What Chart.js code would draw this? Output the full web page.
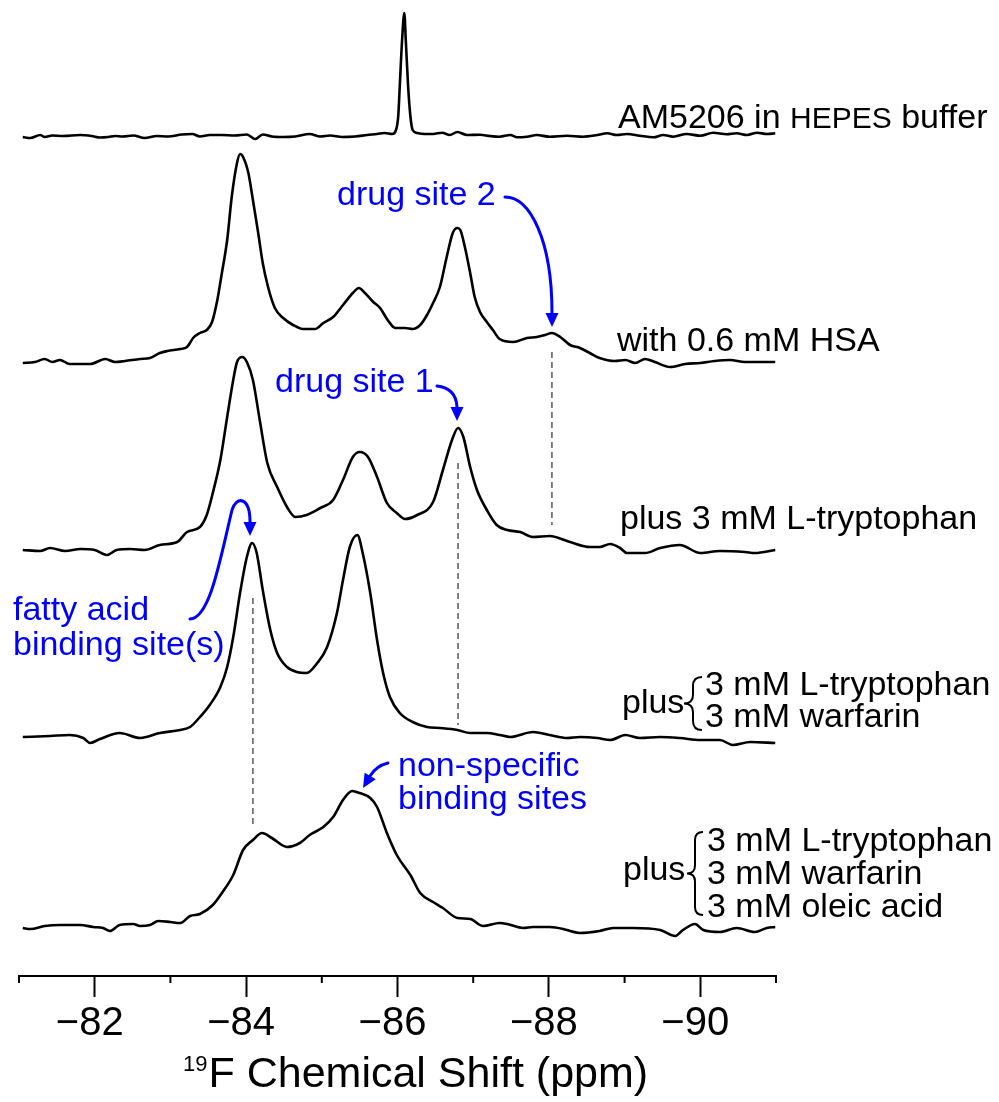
<!DOCTYPE html>
<html lang="en">
<head>
<meta charset="utf-8">
<title>19F NMR – AM5206</title>
<script src="https://cdn.jsdelivr.net/npm/chart.js@4.4.1/dist/chart.umd.min.js"></script>
<style>
  html, body { margin: 0; padding: 0; background: #fff; }
  canvas { display: block; }
</style>
</head>
<body>
<canvas id="espectros" width="999" height="1102"></canvas>
<script>
// Espectros de 19F do AM5206, empilhados de cima para baixo.
// Intensidade em unidades arbitrárias, medida a partir da linha de base de cada espectro.

const ppmHepes = [-81.05, -81.15, -81.28, -81.34, -81.44, -81.58, -81.81, -81.96, -82.07, -82.18,
  -82.27, -82.37, -82.51, -82.66, -82.82, -82.97, -83.15, -83.29, -83.39, -83.52, -83.68, -83.85,
  -84.01, -84.12, -84.22, -84.34, -84.49, -84.65, -84.84, -84.98, -85.11, -85.27, -85.44, -85.60,
  -85.73, -85.83, -85.93, -85.98, -86.01, -86.03, -86.06, -86.09, -86.11, -86.14, -86.17, -86.20,
  -86.26, -86.36, -86.47, -86.59, -86.69, -86.79, -86.92, -87.09, -87.22, -87.35, -87.49, -87.58,
  -87.71, -87.84, -88.01, -88.24, -88.45, -88.64, -88.77, -88.90, -89.03, -89.20, -89.38, -89.51,
  -89.64, -89.82, -90.00, -90.17, -90.35, -90.48, -90.62, -90.75, -90.88, -90.99];
const intHepes = [-1, -2, 1, -1, 0.5, 0, 1, 0, -1.5, -1, 0, -0.5, 0.5, -2, 0, -0.5, 1.5, 2, -0.5, 1,
  1, 0.5, 1.5, -3, 1.5, -0.5, -1, -0.5, 2, -0.5, 0.5, -1, -0.5, 1, 2, 3, 2, 6, 20, 50, 95, 123, 95,
  50, 20, 6, 3, 2, 2, 3.3, 1, 4, 1, 1.3, 0, -0.7, 1, -1.3, -0.7, 1, -0.7, 0.3, -0.7, 1, 2.7, 1, 2,
  0.3, -1.3, 1, -0.7, 2, 0.3, 3.3, 1.7, 2.7, 1, 3.3, 2, 2.7];

const ppmHsa = [-81.05, -81.21, -81.34, -81.44, -81.54, -81.67, -81.94, -82.14, -82.27, -82.40,
  -82.60, -82.73, -82.86, -82.96, -83.13, -83.22, -83.30, -83.39, -83.48, -83.55, -83.62, -83.68,
  -83.75, -83.81, -83.88, -83.92, -83.96, -84.03, -84.09, -84.16, -84.22, -84.29, -84.38, -84.49,
  -84.62, -84.75, -84.91, -85.02, -85.15, -85.28, -85.41, -85.49, -85.57, -85.68, -85.77, -85.87,
  -85.97, -86.03, -86.10, -86.20, -86.30, -86.39, -86.47, -86.56, -86.65, -86.73, -86.79, -86.83,
  -86.89, -86.96, -87.02, -87.09, -87.18, -87.26, -87.35, -87.53, -87.71, -87.84, -87.95, -88.04,
  -88.15, -88.28, -88.41, -88.54, -88.67, -88.87, -89.01, -89.14, -89.27, -89.40, -89.60, -89.80,
  -90.00, -90.19, -90.39, -90.59, -90.79, -90.99];
const intHsa = [-1, 0, 3, 0, 2, -2, -2, 3, 0, 1, 3, 4, 9, 11, 13, 15, 24, 29, 32, 40, 62, 89, 122,
  165, 199, 208, 205, 189, 162, 129, 99, 75, 54, 44, 37, 33, 33, 39, 45, 57, 69, 74, 69, 60, 54, 42,
  34, 34, 34, 33, 37, 47, 59, 75, 105, 129, 134, 132, 115, 89, 65, 50, 40, 32, 23, 20, 24, 25, 27,
  29, 25, 17, 14, 9, 4, 1, 2, -1, 3, 0, -5, -2, -1, 1, 2, 0, 0, 0];

const ppmTrp = [-81.05, -81.28, -81.41, -81.61, -81.81, -82.00, -82.16, -82.29, -82.47, -82.66,
  -82.86, -83.09, -83.22, -83.39, -83.48, -83.56, -83.66, -83.75, -83.83, -83.88, -83.95, -84.01,
  -84.09, -84.18, -84.28, -84.41, -84.54, -84.65, -84.80, -84.98, -85.15, -85.28, -85.41, -85.50,
  -85.61, -85.73, -85.86, -85.99, -86.10, -86.26, -86.47, -86.60, -86.72, -86.80, -86.87, -86.96,
  -87.05, -87.18, -87.31, -87.45, -87.62, -87.79, -88.01, -88.28, -88.54, -88.67, -88.81, -88.94,
  -89.03, -89.27, -89.47, -89.73, -90.00, -90.26, -90.59, -90.72, -90.99];
const intTrp = [0, -1, 2, -1, 1, 0, -5, 0, 1, 0, 5, 8, 18, 23, 35, 57, 90, 133, 170, 188, 193, 188,
  170, 130, 87, 63, 43, 33, 35, 42, 50, 70, 93, 98, 93, 73, 47, 37, 31, 35, 48, 80, 110, 122, 113,
  83, 60, 40, 25, 20, 18, 13, 14, 8, 3, 3, 6, 2, -3, -3, 2, 5, -3, -1, -2, -3, 0];

const ppmWarf = [-81.05, -81.41, -81.67, -81.85, -81.94, -82.07, -82.33, -82.60, -82.86, -83.13,
  -83.26, -83.39, -83.52, -83.66, -83.75, -83.83, -83.92, -84.01, -84.08, -84.14, -84.22, -84.32,
  -84.41, -84.54, -84.67, -84.80, -84.94, -85.07, -85.20, -85.28, -85.37, -85.47, -85.54, -85.64,
  -85.73, -85.81, -85.90, -86.03, -86.20, -86.39, -86.56, -86.79, -86.96, -87.18, -87.35, -87.49,
  -87.79, -88.01, -88.24, -88.41, -88.64, -88.81, -89.01, -89.20, -89.47, -89.73, -90.00, -90.26,
  -90.43, -90.66, -90.99];
const intWarf = [0, 1, 2, -1, -6, -2, 4, -1, 4, 7, 10, 20, 32, 50, 70, 100, 144, 180, 194, 184, 147,
  107, 84, 70, 65, 64, 74, 90, 124, 157, 190, 202, 184, 144, 97, 64, 40, 24, 15, 10, 9, 7, 4, 4, 2,
  0, 5, 2, -1, 0, -1, -3, 2, -1, 0, -1, -3, -3, -8, -5, -6];

const ppmOleico = [-81.05, -81.15, -81.34, -81.54, -81.81, -81.98, -82.11, -82.20, -82.33, -82.51,
  -82.60, -82.73, -82.84, -83.00, -83.13, -83.26, -83.39, -83.56, -83.69, -83.83, -83.96, -84.09,
  -84.21, -84.34, -84.54, -84.71, -84.84, -85.02, -85.15, -85.28, -85.40, -85.50, -85.64, -85.73,
  -85.86, -85.99, -86.17, -86.30, -86.47, -86.60, -86.79, -86.96, -87.13, -87.35, -87.45, -87.66,
  -87.79, -88.01, -88.19, -88.28, -88.41, -88.67, -88.85, -89.11, -89.47, -89.67, -89.77, -89.93,
  -90.04, -90.26, -90.48, -90.72, -90.88, -90.99];
const intOleico = [0, -1, 2, 3, 3, 1, 0, -3, 3, 4, 2, 3, 7, 6, 5, 12, 14, 23, 36, 53, 78, 88, 95,
  90, 81, 85, 93, 101, 111, 128, 137, 135, 130, 121, 95, 73, 53, 35, 26, 20, 10, 9, 2, 5, 4, 0, 1,
  1, -1, -3, -5, -3, 0, 0, -2, -8, -2, 4, -2, -4, 0, -4, 0, 1];

// Deslocamento vertical de cada espectro na pilha (mesmas unidades da intensidade).
const linhasBase = [840, 614, 426, 239, 48];

const ticksMaiores = [-82, -84, -86, -88, -90];
const ticksMenores = [-81, -83, -85, -87, -89, -91];

// Guias tracejadas que ligam o mesmo sítio entre espectros.
const guiasPpm = [-88.04, -86.80, -84.09];
const guiasTopo = [624, 513, 378];
const guiasFundo = [451, 251, 148];

const AZUL = '#0000ff';
const FONTE = '"Liberation Sans", Arial, Helvetica, sans-serif';

function serie(ppm, int, base) {
  return ppm.map((p, i) => ({ x: p, y: base + int[i] }));
}

const espectros = [
  [ppmHepes, intHepes], [ppmHsa, intHsa], [ppmTrp, intTrp], [ppmWarf, intWarf], [ppmOleico, intOleico],
].map(([p, v], i) => ({
  data: serie(p, v, linhasBase[i]),
  borderColor: '#000',
  borderWidth: 2.6,
  pointRadius: 0,
  cubicInterpolationMode: 'monotone',
  fill: false,
}));

const guias = guiasPpm.map((p, i) => ({
  data: [{ x: p, y: guiasTopo[i] }, { x: p, y: guiasFundo[i] }],
  borderColor: '#5a5a5a',
  borderWidth: 1.5,
  borderDash: [6, 4],
  pointRadius: 0,
  tension: 0,
}));

function pontaSeta(ctx, x, y, ang) {
  ctx.save();
  ctx.translate(x, y);
  ctx.rotate(ang);
  ctx.beginPath();
  ctx.moveTo(0, 0);
  ctx.lineTo(-14, -6.5);
  ctx.lineTo(-14, 6.5);
  ctx.closePath();
  ctx.fill();
  ctx.restore();
}

function chaveta(ctx, x, topo, fundo, w) {
  const m = (topo + fundo) / 2, xm = x + w / 2, r = w / 2;
  ctx.beginPath();
  ctx.moveTo(x + w, topo);
  ctx.quadraticCurveTo(xm, topo, xm, topo + r);
  ctx.lineTo(xm, m - r);
  ctx.quadraticCurveTo(xm, m, x, m);
  ctx.quadraticCurveTo(xm, m, xm, m + r);
  ctx.lineTo(xm, fundo - r);
  ctx.quadraticCurveTo(xm, fundo, x + w, fundo);
  ctx.stroke();
}

function texto(ctx, s, x, y, tam, cor) {
  ctx.font = tam + 'px ' + FONTE;
  ctx.fillStyle = cor;
  ctx.fillText(s, x, y);
  return x + ctx.measureText(s).width;
}

const anotacoes = {
  id: 'anotacoes',
  afterDraw(chart) {
    const ctx = chart.ctx;
    const sx = chart.scales.x;
    ctx.save();
    ctx.textAlign = 'left';
    ctx.textBaseline = 'alphabetic';

    // Marcas menores do eixo.
    ctx.strokeStyle = '#000';
    ctx.lineWidth = 2;
    ticksMenores.forEach((v) => {
      const px = sx.getPixelForValue(v);
      ctx.beginPath();
      ctx.moveTo(px, sx.top);
      ctx.lineTo(px, sx.top + 7);
      ctx.stroke();
    });

    // Título do eixo com o expoente do 19F.
    let x = texto(ctx, '19', 183, 1071, 22, '#000');
    texto(ctx, 'F Chemical Shift (ppm)', x + 1, 1087, 43, '#000');

    // Rótulos de cada espectro.
    x = texto(ctx, 'AM5206 in ', 618, 128, 34, '#000');
    x = texto(ctx, 'HEPES', x, 128, 30, '#000');
    texto(ctx, ' buffer', x, 128, 34, '#000');
    texto(ctx, 'with 0.6 mM HSA', 617, 351, 34, '#000');
    texto(ctx, 'plus 3 mM L-tryptophan', 620, 529, 34, '#000');

    texto(ctx, 'plus', 622, 713, 34, '#000');
    texto(ctx, '3 mM L-tryptophan', 705, 695, 34, '#000');
    texto(ctx, '3 mM warfarin', 705, 727, 34, '#000');

    texto(ctx, 'plus', 623, 880, 34, '#000');
    texto(ctx, '3 mM L-tryptophan', 707, 851, 34, '#000');
    texto(ctx, '3 mM warfarin', 707, 884, 34, '#000');
    texto(ctx, '3 mM oleic acid', 707, 917, 34, '#000');

    ctx.strokeStyle = '#000';
    ctx.lineWidth = 2;
    chaveta(ctx, 684, 677, 730, 18);
    chaveta(ctx, 687, 832, 915, 16);

    // Anotações azuis com setas.
    texto(ctx, 'drug site 2', 337, 205, 34, AZUL);
    texto(ctx, 'drug site 1', 275, 392, 34, AZUL);
    texto(ctx, 'fatty acid', 13, 620, 34, AZUL);
    texto(ctx, 'binding site(s)', 13, 655, 34, AZUL);
    texto(ctx, 'non-specific', 398, 776, 34, AZUL);
    texto(ctx, 'binding sites', 398, 809, 34, AZUL);

    ctx.strokeStyle = AZUL;
    ctx.fillStyle = AZUL;
    ctx.lineWidth = 3;
    ctx.lineCap = 'round';

    ctx.beginPath();
    ctx.moveTo(505, 197);
    ctx.bezierCurveTo(530, 197, 552, 240, 552, 313);
    ctx.stroke();
    pontaSeta(ctx, 552, 327, Math.PI / 2);

    ctx.beginPath();
    ctx.moveTo(437, 386);
    ctx.quadraticCurveTo(456, 388, 457, 407);
    ctx.stroke();
    pontaSeta(ctx, 457, 421, Math.PI / 2);

    ctx.beginPath();
    ctx.moveTo(190, 619);
    ctx.bezierCurveTo(210, 618, 220, 560, 232, 510);
    ctx.bezierCurveTo(236, 496, 250, 496, 250, 522);
    ctx.stroke();
    pontaSeta(ctx, 250, 536, Math.PI / 2);

    ctx.beginPath();
    ctx.moveTo(388, 763);
    ctx.quadraticCurveTo(376, 766, 370, 776);
    ctx.stroke();
    pontaSeta(ctx, 363, 788, 2.11);

    ctx.restore();
  },
};

new Chart(document.getElementById('espectros'), {
  type: 'line',
  data: { datasets: [...espectros, ...guias] },
  options: {
    responsive: false,
    animation: false,
    layout: { padding: { left: 19, right: 223, top: 0, bottom: 51 } },
    plugins: { legend: { display: false }, tooltip: { enabled: false } },
    scales: {
      x: {
        type: 'linear',
        min: -91,
        max: -81,
        reverse: true,
        afterBuildTicks: (escala) => { escala.ticks = ticksMaiores.map((v) => ({ value: v })); },
        border: { display: true, color: '#000', width: 2 },
        grid: {
          drawOnChartArea: false,
          drawTicks: true,
          tickLength: 21,
          tickWidth: 2,
          tickColor: '#000',
        },
        ticks: {
          color: '#000',
          padding: 3,
          maxRotation: 0,
          labelOffset: -5,
          font: { family: FONTE, size: 40 },
          callback: (v) => '\u2212' + Math.abs(v),
        },
      },
      y: { type: 'linear', display: false, min: 0, max: 976 },
    },
  },
  plugins: [anotacoes],
});
</script>
</body>
</html>
